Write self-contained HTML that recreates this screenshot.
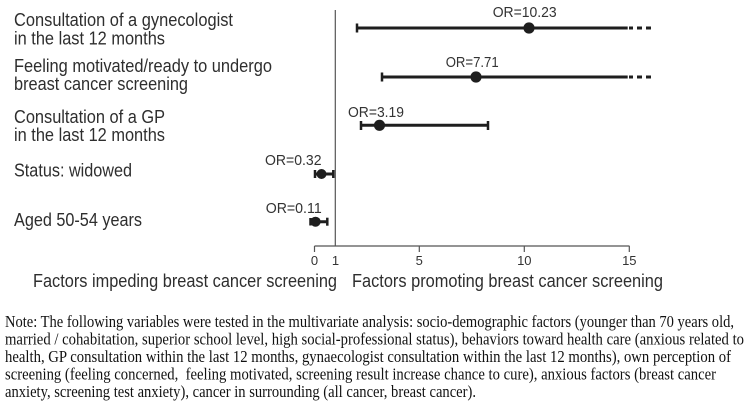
<!DOCTYPE html>
<html>
<head>
<meta charset="utf-8">
<style>
  html, body { margin: 0; padding: 0; background: #ffffff; }
  body { width: 749px; height: 402px; overflow: hidden; }
  svg { display: block; }
  .lab { font-family: "Liberation Sans", "DejaVu Sans", sans-serif; font-size: 18px; fill: #2e2e2e; }
  .or { font-family: "Liberation Sans", "DejaVu Sans", sans-serif; font-size: 15px; fill: #333; }
  .tick { font-family: "Liberation Sans", "DejaVu Sans", sans-serif; font-size: 13px; fill: #333; }
  .note { font-family: "Liberation Serif", "DejaVu Serif", serif; font-size: 17px; fill: #111; }
</style>
</head>
<body>
<svg width="749" height="402" viewBox="0 0 749 402" xmlns="http://www.w3.org/2000/svg">
  <rect x="0" y="0" width="749" height="402" fill="#fff"/>

  <!-- Row labels -->
  <text class="lab" x="14" y="26" textLength="219" lengthAdjust="spacingAndGlyphs">Consultation of a gynecologist</text>
  <text class="lab" x="14" y="44.5" textLength="151" lengthAdjust="spacingAndGlyphs">in the last 12 months</text>
  <text class="lab" x="14" y="72" textLength="258" lengthAdjust="spacingAndGlyphs">Feeling motivated/ready to undergo</text>
  <text class="lab" x="14" y="90" textLength="174" lengthAdjust="spacingAndGlyphs">breast cancer screening</text>
  <text class="lab" x="14" y="123" textLength="151" lengthAdjust="spacingAndGlyphs">Consultation of a GP</text>
  <text class="lab" x="14" y="141" textLength="151" lengthAdjust="spacingAndGlyphs">in the last 12 months</text>
  <text class="lab" x="14" y="176.5" textLength="118" lengthAdjust="spacingAndGlyphs">Status: widowed</text>
  <text class="lab" x="14" y="226" textLength="128" lengthAdjust="spacingAndGlyphs">Aged 50-54 years</text>

  <!-- Reference vertical line at OR=1 -->
  <line x1="335.3" y1="10" x2="335.3" y2="246" stroke="#555" stroke-width="1.2"/>

  <!-- X axis -->
  <line x1="314.5" y1="246" x2="629.5" y2="246" stroke="#555" stroke-width="1.2"/>
  <line x1="314.5" y1="246" x2="314.5" y2="252" stroke="#555" stroke-width="1.2"/>
  <line x1="419.3" y1="246" x2="419.3" y2="252" stroke="#555" stroke-width="1.2"/>
  <line x1="524.3" y1="246" x2="524.3" y2="252" stroke="#555" stroke-width="1.2"/>
  <line x1="629.3" y1="246" x2="629.3" y2="252" stroke="#555" stroke-width="1.2"/>
  <text class="tick" x="314.5" y="265" text-anchor="middle">0</text>
  <text class="tick" x="335.5" y="265" text-anchor="middle">1</text>
  <text class="tick" x="419.3" y="265" text-anchor="middle">5</text>
  <text class="tick" x="524.3" y="265" text-anchor="middle">10</text>
  <text class="tick" x="629.3" y="265" text-anchor="middle">15</text>

  <!-- Bottom captions -->
  <text class="lab" x="33" y="287" textLength="304" lengthAdjust="spacingAndGlyphs">Factors impeding breast cancer screening</text>
  <text class="lab" x="352" y="287" textLength="311" lengthAdjust="spacingAndGlyphs">Factors promoting breast cancer screening</text>

  <g stroke="#1e1e1e" fill="#1e1e1e">
    <!-- Row 1: OR=10.23 -->
    <line x1="357" y1="28" x2="627.7" y2="28" stroke-width="3"/>
    <line x1="357" y1="23.5" x2="357" y2="32.5" stroke-width="2.5"/>
    <line x1="629" y1="28" x2="633" y2="28" stroke-width="3"/>
    <line x1="637" y1="28" x2="642" y2="28" stroke-width="3"/>
    <line x1="646" y1="28" x2="651" y2="28" stroke-width="3"/>
    <circle cx="529" cy="28" r="5.6" stroke="none"/>

    <!-- Row 2: OR=7.71 -->
    <line x1="382" y1="77" x2="627.7" y2="77" stroke-width="3"/>
    <line x1="382" y1="72.5" x2="382" y2="81.5" stroke-width="2.5"/>
    <line x1="629" y1="77" x2="633" y2="77" stroke-width="3"/>
    <line x1="637" y1="77" x2="642" y2="77" stroke-width="3"/>
    <line x1="646" y1="77" x2="651" y2="77" stroke-width="3"/>
    <circle cx="476" cy="77" r="5.6" stroke="none"/>

    <!-- Row 3: OR=3.19 -->
    <line x1="361" y1="125.3" x2="488" y2="125.3" stroke-width="3"/>
    <line x1="361" y1="121" x2="361" y2="130" stroke-width="2.5"/>
    <line x1="488" y1="121" x2="488" y2="130" stroke-width="2.5"/>
    <circle cx="379.5" cy="125.3" r="5.6" stroke="none"/>

    <!-- Row 4: OR=0.32 -->
    <line x1="315" y1="174" x2="333.3" y2="174" stroke-width="3"/>
    <line x1="315" y1="170" x2="315" y2="178" stroke-width="2.5"/>
    <line x1="333.3" y1="170" x2="333.3" y2="178" stroke-width="2.5"/>
    <circle cx="321.5" cy="174" r="5" stroke="none"/>

    <!-- Row 5: OR=0.11 -->
    <line x1="311" y1="221.7" x2="327.3" y2="221.7" stroke-width="3"/>
    <line x1="327.3" y1="217.7" x2="327.3" y2="225.7" stroke-width="2.5"/>
    <line x1="310.5" y1="218" x2="310.5" y2="225.5" stroke-width="2.5"/>
    <ellipse cx="315.5" cy="221.7" rx="5.2" ry="5" stroke="none"/>
  </g>

  <!-- OR labels -->
  <text class="or" x="492.7" y="17" textLength="64" lengthAdjust="spacingAndGlyphs">OR=10.23</text>
  <text class="or" x="445.7" y="67" textLength="53" lengthAdjust="spacingAndGlyphs">OR=7.71</text>
  <text class="or" x="348" y="117" textLength="56" lengthAdjust="spacingAndGlyphs">OR=3.19</text>
  <text class="or" x="265" y="165" textLength="56.5" lengthAdjust="spacingAndGlyphs">OR=0.32</text>
  <text class="or" x="265.7" y="213" textLength="56" lengthAdjust="spacingAndGlyphs">OR=0.11</text>

  <!-- Note -->
  <text class="note" x="5" y="326.8" textLength="729" lengthAdjust="spacingAndGlyphs">Note: The following variables were tested in the multivariate analysis: socio-demographic factors (younger than 70 years old,</text>
  <text class="note" x="5" y="344.4" textLength="739" lengthAdjust="spacingAndGlyphs">married / cohabitation, superior school level, high social-professional status), behaviors toward health care (anxious related to</text>
  <text class="note" x="5" y="362" textLength="726" lengthAdjust="spacingAndGlyphs">health, GP consultation within the last 12 months, gynaecologist consultation within the last 12 months), own perception of</text>
  <text class="note" x="5" y="379.6" textLength="711" lengthAdjust="spacingAndGlyphs" xml:space="preserve">screening (feeling concerned,  feeling motivated, screening result increase chance to cure), anxious factors (breast cancer</text>
  <text class="note" x="5" y="397.2" textLength="471" lengthAdjust="spacingAndGlyphs">anxiety, screening test anxiety), cancer in surrounding (all cancer, breast cancer).</text>
</svg>
</body>
</html>
